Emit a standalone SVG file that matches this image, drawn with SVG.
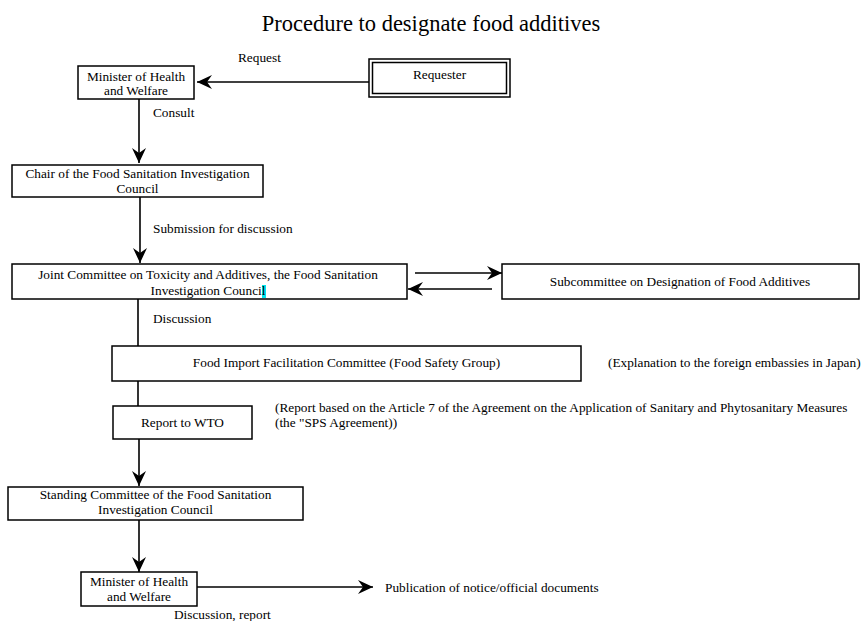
<svg xmlns="http://www.w3.org/2000/svg" width="862" height="621" viewBox="0 0 862 621">
<style>
text{font-family:"Liberation Serif","Times New Roman",serif;font-size:13.3px;fill:#000}
.c{text-anchor:middle}
.title{font-size:22.5px}
.box{fill:#fff;stroke:#000;stroke-width:1.5}
.ln{fill:none;stroke:#000;stroke-width:1.6}
</style>
<defs>
<marker id="ah" markerUnits="userSpaceOnUse" markerWidth="20" markerHeight="16" viewBox="-16 -8 18 16" refX="0" refY="0" orient="auto">
<path d="M0,0 L-15,-7 L-10,0 L-15,7 Z" fill="#000"/>
</marker>
</defs>
<rect width="862" height="621" fill="#fff"/>
<text class="c title" x="431" y="31">Procedure to designate food additives</text>
<g id="connectors">
<line class="ln" x1="369" y1="82" x2="197" y2="82" marker-end="url(#ah)"/>
<line class="ln" x1="139" y1="99" x2="139" y2="163" marker-end="url(#ah)"/>
<line class="ln" x1="140" y1="197" x2="140" y2="263" marker-end="url(#ah)"/>
<line class="ln" x1="415" y1="273" x2="502" y2="273" marker-end="url(#ah)"/>
<line class="ln" x1="492" y1="289" x2="408" y2="289" marker-end="url(#ah)"/>
<line class="ln" x1="138" y1="299" x2="138" y2="346"/>
<line class="ln" x1="138" y1="381" x2="138" y2="406"/>
<line class="ln" x1="139" y1="439" x2="139" y2="486" marker-end="url(#ah)"/>
<line class="ln" x1="139" y1="520" x2="139" y2="572" marker-end="url(#ah)"/>
<line class="ln" x1="197" y1="587" x2="373" y2="587" marker-end="url(#ah)"/>
</g>
<text x="238" y="62">Request</text>
<text x="153" y="117">Consult</text>
<text x="153" y="233">Submission for discussion</text>
<text x="153" y="323">Discussion</text>
<text x="174" y="619">Discussion, report</text>
<g id="minister1">
<rect class="box" x="78" y="66" width="116" height="33"/>
<text class="c" x="136" y="81">Minister of Health</text>
<text class="c" x="136" y="95">and Welfare</text>
</g>
<g id="requester">
<rect class="box" x="369" y="59" width="141" height="38"/>
<rect class="box" x="372.5" y="62.5" width="134" height="31" stroke-width="1"/>
<text class="c" x="439.5" y="79">Requester</text>
</g>
<g id="chair">
<rect class="box" x="12" y="165" width="251" height="32"/>
<text class="c" x="137.5" y="178">Chair of the Food Sanitation Investigation</text>
<text class="c" x="137.5" y="193">Council</text>
</g>
<g id="joint">
<rect class="box" x="12" y="264" width="395" height="35"/>
<rect x="262" y="285" width="4" height="13" fill="#00e5ee"/>
<text class="c" x="208" y="279">Joint Committee on Toxicity and Additives, the Food Sanitation</text>
<text class="c" x="208" y="295">Investigation Council</text>
</g>
<g id="subcommittee">
<rect class="box" x="502" y="264" width="357" height="35"/>
<text class="c" x="680" y="286">Subcommittee on Designation of Food Additives</text>
</g>
<g id="foodimport">
<rect class="box" x="112" y="346" width="469" height="35"/>
<text class="c" x="346.5" y="367">Food Import Facilitation Committee (Food Safety Group)</text>
</g>
<text x="608" y="367">(Explanation to the foreign embassies in Japan)</text>
<g id="wto">
<rect class="box" x="113" y="406" width="139" height="33"/>
<text class="c" x="182.5" y="427">Report to WTO</text>
</g>
<text x="275" y="412">(Report based on the Article 7 of the Agreement on the Application of Sanitary and Phytosanitary Measures</text>
<text x="275" y="427">(the "SPS Agreement))</text>
<g id="standing">
<rect class="box" x="8" y="487" width="295" height="33"/>
<text class="c" x="155.5" y="499">Standing Committee of the Food Sanitation</text>
<text class="c" x="155.5" y="514">Investigation Council</text>
</g>
<g id="minister2">
<rect class="box" x="81" y="572" width="116" height="34"/>
<text class="c" x="139" y="586">Minister of Health</text>
<text class="c" x="139" y="601">and Welfare</text>
</g>
<text x="385" y="592">Publication of notice/official documents</text>
</svg>
